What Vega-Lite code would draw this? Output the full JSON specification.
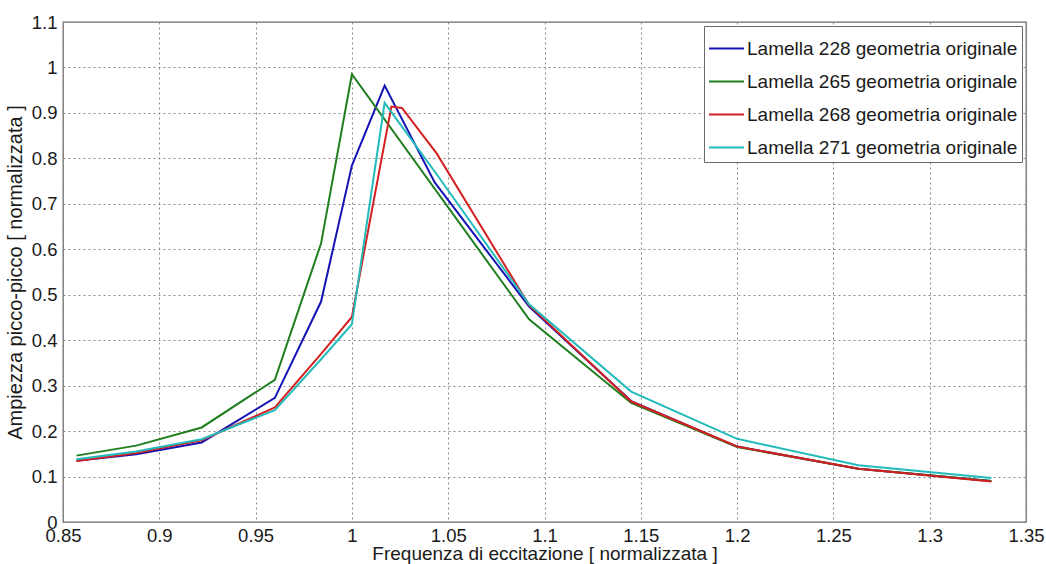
{
  "$schema": "https://vega.github.io/schema/vega-lite/v6.json",
  "width": 963,
  "height": 500,
  "autosize": {"type": "none"},
  "padding": {"left": 63, "top": 22, "right": 20, "bottom": 42},
  "background": "white",
  "config": {
    "font": "Liberation Sans",
    "view": {"stroke": "#6a6a6a", "strokeWidth": 1.3},
    "axis": {
      "labelFont": "Liberation Sans",
      "titleFont": "Liberation Sans",
      "labelFontSize": 18.5,
      "titleFontSize": 19,
      "labelColor": "#1a1a1a",
      "titleColor": "#1a1a1a",
      "titleFontWeight": "normal",
      "domain": false,
      "ticks": false,
      "grid": true,
      "gridColor": "#8a8a8a",
      "gridDash": [2, 3],
      "gridWidth": 1,
      "gridOpacity": 1
    }
  },
  "data": {
    "values": [
      {"f": 0.857, "a": 0.135, "s": "Lamella 228 geometria originale"},
      {"f": 0.888, "a": 0.149, "s": "Lamella 228 geometria originale"},
      {"f": 0.922, "a": 0.175, "s": "Lamella 228 geometria originale"},
      {"f": 0.96, "a": 0.273, "s": "Lamella 228 geometria originale"},
      {"f": 0.984, "a": 0.485, "s": "Lamella 228 geometria originale"},
      {"f": 1.0, "a": 0.784, "s": "Lamella 228 geometria originale"},
      {"f": 1.017, "a": 0.96, "s": "Lamella 228 geometria originale"},
      {"f": 1.043, "a": 0.747, "s": "Lamella 228 geometria originale"},
      {"f": 1.092, "a": 0.474, "s": "Lamella 228 geometria originale"},
      {"f": 1.145, "a": 0.266, "s": "Lamella 228 geometria originale"},
      {"f": 1.2, "a": 0.166, "s": "Lamella 228 geometria originale"},
      {"f": 1.263, "a": 0.117, "s": "Lamella 228 geometria originale"},
      {"f": 1.332, "a": 0.09, "s": "Lamella 228 geometria originale"},

      {"f": 0.857, "a": 0.146, "s": "Lamella 265 geometria originale"},
      {"f": 0.888, "a": 0.168, "s": "Lamella 265 geometria originale"},
      {"f": 0.922, "a": 0.208, "s": "Lamella 265 geometria originale"},
      {"f": 0.96, "a": 0.313, "s": "Lamella 265 geometria originale"},
      {"f": 0.984, "a": 0.613, "s": "Lamella 265 geometria originale"},
      {"f": 1.0, "a": 0.985, "s": "Lamella 265 geometria originale"},
      {"f": 1.092, "a": 0.446, "s": "Lamella 265 geometria originale"},
      {"f": 1.145, "a": 0.262, "s": "Lamella 265 geometria originale"},
      {"f": 1.2, "a": 0.165, "s": "Lamella 265 geometria originale"},
      {"f": 1.263, "a": 0.117, "s": "Lamella 265 geometria originale"},
      {"f": 1.332, "a": 0.09, "s": "Lamella 265 geometria originale"},

      {"f": 0.857, "a": 0.134, "s": "Lamella 268 geometria originale"},
      {"f": 0.888, "a": 0.152, "s": "Lamella 268 geometria originale"},
      {"f": 0.922, "a": 0.18, "s": "Lamella 268 geometria originale"},
      {"f": 0.96, "a": 0.252, "s": "Lamella 268 geometria originale"},
      {"f": 0.984, "a": 0.37, "s": "Lamella 268 geometria originale"},
      {"f": 1.0, "a": 0.451, "s": "Lamella 268 geometria originale"},
      {"f": 1.0205, "a": 0.914, "s": "Lamella 268 geometria originale"},
      {"f": 1.026, "a": 0.911, "s": "Lamella 268 geometria originale"},
      {"f": 1.044, "a": 0.811, "s": "Lamella 268 geometria originale"},
      {"f": 1.092, "a": 0.477, "s": "Lamella 268 geometria originale"},
      {"f": 1.145, "a": 0.265, "s": "Lamella 268 geometria originale"},
      {"f": 1.2, "a": 0.166, "s": "Lamella 268 geometria originale"},
      {"f": 1.263, "a": 0.117, "s": "Lamella 268 geometria originale"},
      {"f": 1.332, "a": 0.089, "s": "Lamella 268 geometria originale"},

      {"f": 0.857, "a": 0.138, "s": "Lamella 271 geometria originale"},
      {"f": 0.888, "a": 0.155, "s": "Lamella 271 geometria originale"},
      {"f": 0.922, "a": 0.182, "s": "Lamella 271 geometria originale"},
      {"f": 0.96, "a": 0.246, "s": "Lamella 271 geometria originale"},
      {"f": 0.984, "a": 0.358, "s": "Lamella 271 geometria originale"},
      {"f": 1.0, "a": 0.435, "s": "Lamella 271 geometria originale"},
      {"f": 1.017, "a": 0.922, "s": "Lamella 271 geometria originale"},
      {"f": 1.044, "a": 0.765, "s": "Lamella 271 geometria originale"},
      {"f": 1.092, "a": 0.479, "s": "Lamella 271 geometria originale"},
      {"f": 1.145, "a": 0.287, "s": "Lamella 271 geometria originale"},
      {"f": 1.2, "a": 0.183, "s": "Lamella 271 geometria originale"},
      {"f": 1.263, "a": 0.125, "s": "Lamella 271 geometria originale"},
      {"f": 1.332, "a": 0.097, "s": "Lamella 271 geometria originale"}
    ]
  },
  "mark": {"type": "line", "strokeWidth": 2, "clip": true},
  "encoding": {
    "x": {
      "field": "f",
      "type": "quantitative",
      "scale": {"domain": [0.85, 1.35], "nice": false, "zero": false},
      "axis": {
        "title": "Frequenza di eccitazione [ normalizzata ]",
        "values": [0.85, 0.9, 0.95, 1.0, 1.05, 1.1, 1.15, 1.2, 1.25, 1.3, 1.35],
        "format": "~g",
        "labelPadding": 4,
        "titlePadding": 0,
        "labelFlush": false,
        "labelOverlap": false
      }
    },
    "y": {
      "field": "a",
      "type": "quantitative",
      "scale": {"domain": [0, 1.1], "nice": false, "zero": false},
      "axis": {
        "title": "Ampiezza picco-picco [ normalizzata ]",
        "titleFontSize": 20,
        "values": [0, 0.1, 0.2, 0.3, 0.4, 0.5, 0.6, 0.7, 0.8, 0.9, 1.0, 1.1],
        "format": "~g",
        "labelPadding": 6,
        "titlePadding": 6,
        "labelFlush": false,
        "labelOverlap": false
      }
    },
    "color": {
      "field": "s",
      "type": "nominal",
      "scale": {
        "domain": ["Lamella 228 geometria originale", "Lamella 265 geometria originale", "Lamella 268 geometria originale", "Lamella 271 geometria originale"],
        "range": ["#1414b4", "#1f7f1f", "#d42020", "#22baba"]
      },
      "legend": {
        "title": null,
        "orient": "top-right",
        "offset": 4,
        "padding": 4,
        "fillColor": "white",
        "strokeColor": "#6a6a6a",
        "symbolType": "stroke",
        "symbolSize": 1225,
        "symbolStrokeWidth": 2,
        "labelFont": "Liberation Sans",
        "labelFontSize": 19,
        "labelColor": "#1a1a1a",
        "labelOffset": 2,
        "labelLimit": 400,
        "rowPadding": 4
      }
    }
  }
}
